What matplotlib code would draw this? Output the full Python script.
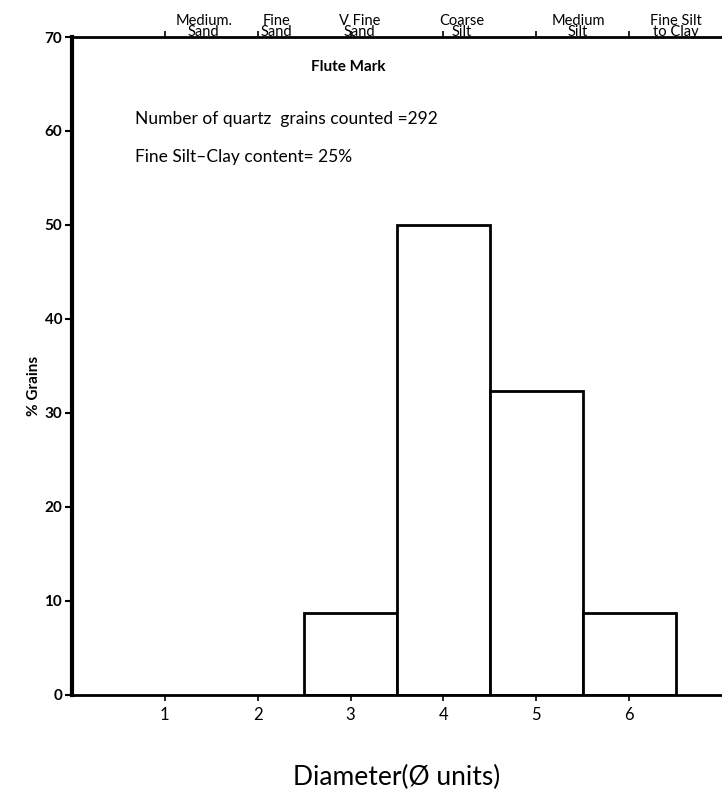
import matplotlib
matplotlib.use("Agg")
import matplotlib.pyplot as plt
import matplotlib.transforms as mtransforms

# phi class centres and % of grains
phi_classes = [3, 4, 5, 6]
pct_grains = [8.7, 50.0, 32.3, 8.7]

x_ticks = [1, 2, 3, 4, 5, 6]
y_ticks = [0, 10, 20, 30, 40, 50, 60, 70]

size_names = ["Medium.\nSand", "Fine\nSand", "V Fine\nSand",
              "Coarse\nSilt", "Medium\nSilt", "Fine Silt\nto Clay"]
size_name_pos = [1.42, 2.2, 3.1, 4.2, 5.45, 6.5]

FONT = "Lato"

fig = plt.figure(figsize=(7.22, 7.94), dpi=100)
ax = fig.add_axes([0.0997, 0.1247, 0.9003, 0.8287])

ax.bar(phi_classes, pct_grains, width=1.0, align="center",
       facecolor="white", edgecolor="black", linewidth=2.0, zorder=2)

ax.set_xlim(0, 7)
ax.set_ylim(0, 70)

ax.spines["right"].set_visible(False)
ax.spines["left"].set_linewidth(3.0)
ax.spines["bottom"].set_linewidth(2.0)
ax.spines["top"].set_linewidth(2.0)

ax.set_xticks(x_ticks)
ax.set_xticklabels([str(t) for t in x_ticks], fontsize=12, family=FONT)
ax.set_yticks(y_ticks)
ax.set_yticklabels([str(t) for t in y_ticks], fontsize=11, family=FONT,
                   fontweight="bold")
ax.tick_params(axis="x", direction="out", length=4, width=1.2, pad=5,
               top=True)
ax.tick_params(axis="y", direction="out", length=5, width=1.5, pad=2)

# size class names above the top axis
trans = mtransforms.blended_transform_factory(ax.transData, ax.transAxes)
for name, xp in zip(size_names, size_name_pos):
    ax.text(xp, 0.997, name, transform=trans, ha="center", va="bottom",
            fontsize=10.5, family=FONT, linespacing=0.75, clip_on=False)

ax.text(0.425, 0.955, "Flute Mark", transform=ax.transAxes, ha="center",
        va="center", fontsize=11, family=FONT, fontweight="bold")
ax.text(0.097, 0.876, "Number of quartz  grains counted =292",
        transform=ax.transAxes, ha="left", va="center", fontsize=12.5,
        family=FONT)
ax.text(0.097, 0.818, "Fine Silt\u2013Clay content= 25%",
        transform=ax.transAxes, ha="left", va="center", fontsize=12.5,
        family=FONT)

ax.set_xlabel("Diameter(\u00d8 units)", fontsize=19, family=FONT,
              labelpad=30)
ax.set_ylabel("% Grains", fontsize=11, family=FONT, fontweight="bold")
ax.yaxis.set_label_coords(-0.047, 0.47)

fig.savefig("out.png", dpi=100)
